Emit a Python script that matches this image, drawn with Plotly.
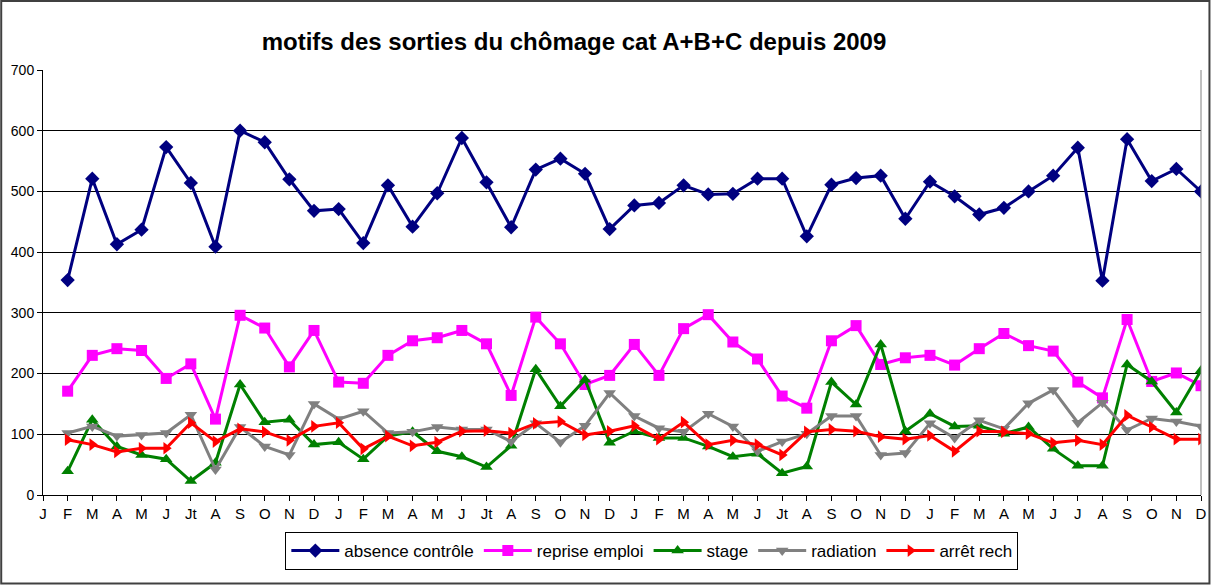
import plotly.graph_objects as go

months = ["J", "F", "M", "A", "M", "J", "Jt", "A", "S", "O", "N", "D",
          "J", "F", "M", "A", "M", "J", "Jt", "A", "S", "O", "N", "D",
          "J", "F", "M", "A", "M", "J", "Jt", "A", "S", "O", "N", "D",
          "J", "F", "M", "A", "M", "J", "J", "A", "S", "O", "N", "D"]

absence_controle = [354, 521, 413, 437, 573, 514, 409, 600, 581, 520, 468,
                    471, 415, 510, 442, 497, 588, 515, 441, 536, 554, 529, 438,
                    477, 481, 510, 495, 496, 521, 521, 426, 511, 522, 526, 455,
                    516, 492, 462, 473, 500, 526, 572, 353, 586, 517, 537, 500]

reprise_emploi = [171, 230, 241, 238, 192, 216, 125, 296, 275, 211, 271,
                  186, 184, 230, 254, 259, 271, 249, 164, 293, 249, 182, 197,
                  248, 197, 274, 297, 252, 224, 163, 143, 254, 279, 215, 226,
                  230, 214, 241, 266, 246, 237, 186, 160, 289, 187, 201, 180]

stage = [39, 124, 80, 66, 59, 23, 53, 182, 120, 124, 83,
         87, 59, 97, 104, 72, 63, 46, 81, 207, 146, 190, 86,
         105, 94, 94, 80, 63, 68, 36, 47, 186, 149, 248, 105,
         134, 113, 114, 101, 112, 76, 48, 48, 215, 187, 136, 205]

radiation = [102, 113, 97, 99, 102, 132, 42, 112, 80, 66, 150,
             125, 138, 102, 104, 112, 108, 108, 88, 118, 87, 114, 168,
             130, 110, 104, 134, 113, 72, 88, 101, 130, 130, 66, 69,
             118, 94, 123, 109, 151, 173, 119, 152, 107, 126, 121, 113]

arret_rech = [91, 83, 71, 77, 77, 119, 88, 109, 104, 90, 113,
              119, 76, 97, 81, 87, 105, 106, 102, 118, 121, 99, 105,
              114, 92, 120, 83, 90, 83, 66, 104, 108, 105, 96, 92,
              98, 72, 105, 104, 101, 86, 90, 83, 131, 112, 92, 92]

series = [
    ("absence contrôle", absence_controle, "#000080", "diamond", 11),
    ("reprise emploi", reprise_emploi, "#FF00FF", "square", 11),
    ("stage", stage, "#008000", "triangle-up", 11),
    ("radiation", radiation, "#808080", "triangle-down", 11),
    ("arrêt rech", arret_rech, "#FF0000", "triangle-right", 11),
]

x_idx = list(range(1, len(months)))

fig = go.Figure()
for name, vals, color, sym, sz in series:
    fig.add_trace(go.Scatter(
        x=x_idx, y=vals, name=name, mode="lines+markers",
        line=dict(color=color, width=3),
        marker=dict(symbol=sym, size=sz, color=color, line=dict(width=0)),
    ))

L, R, T, B = 43, 10, 70, 90
W, H = 1217, 585
pw, ph = W - L - R, H - T - B

fig.update_layout(
    width=W, height=H,
    margin=dict(l=L, r=R, t=T, b=B),
    paper_bgcolor="white", plot_bgcolor="white",
    font=dict(family="Liberation Sans, Arial, sans-serif", color="black", size=14),
    showlegend=True,
    title=dict(text="<b>motifs des sorties du chômage cat A+B+C depuis 2009</b>",
               x=574 / W, xref="container", xanchor="center",
               y=1 - 42 / H, yref="container", yanchor="middle",
               font=dict(size=24, family="Liberation Sans, Arial, sans-serif")),
    legend=dict(orientation="h", x=(655 - L) / pw, xanchor="center",
                y=-(532 - (T + ph)) / ph, yanchor="top",
                bordercolor="black", borderwidth=1,
                font=dict(size=17), itemwidth=48, tracegroupgap=0),
    xaxis=dict(range=[0, len(months) - 1], tickmode="array",
               tickvals=list(range(len(months))), ticktext=months,
               showgrid=False, zeroline=False, showline=True, linecolor="black",
               linewidth=1, ticks="outside", ticklen=5, tickcolor="black",
               tickfont=dict(size=15)),
    yaxis=dict(range=[0, 700], dtick=100, showgrid=True, gridcolor="black",
               gridwidth=1, zeroline=False, showline=True, linecolor="black",
               linewidth=1, ticks="outside", ticklen=5, tickcolor="black",
               tickfont=dict(size=14)),
    shapes=[
        dict(type="line", xref="paper", yref="paper", x0=1, x1=1, y0=0, y1=1,
             line=dict(color="#808080", width=1)),
        dict(type="rect", xref="paper", yref="paper",
             x0=-(L - 1) / pw, x1=(W - L - 1.5) / pw,
             y0=-(B - 1.5) / ph, y1=1 + (T - 1) / ph,
             line=dict(color="#404040", width=2), layer="below"),
    ],
)

fig.write_html("out.html", config={"displayModeBar": False})

with open("out.html", "r", encoding="utf-8") as f:
    html = f.read()
html = html.replace("<body>", "<body style=\"margin:0;padding:0;overflow:hidden\">", 1)
with open("out.html", "w", encoding="utf-8") as f:
    f.write(html)
